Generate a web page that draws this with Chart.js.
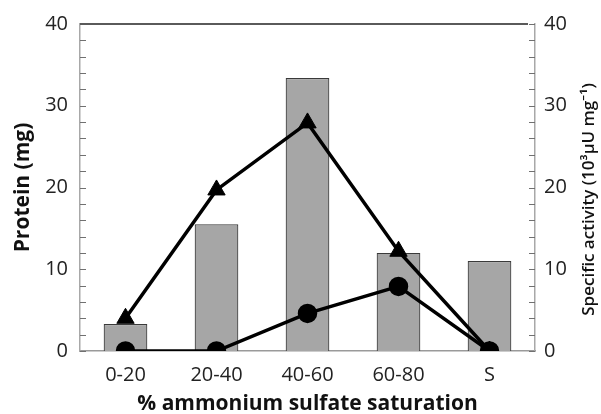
<!DOCTYPE html>
<html>
<head>
<meta charset="utf-8">
<script src="https://cdn.jsdelivr.net/npm/chart.js@4"></script>
<style>
  html, body { margin: 0; padding: 0; background: #fff; }
  #wrap { width: 601px; height: 414px; position: relative; }
</style>
</head>
<body>
<div id="wrap"><canvas id="chart"></canvas></div>
<script>
const categories = ['0-20', '20-40', '40-60', '60-80', 'S'];
const proteinMg = [3.3, 15.5, 33.4, 12.0, 11.0];
const activityTriangles = [4.0, 19.7, 27.9, 12.2, 0];
const activityCircles = [0, 0, 4.6, 7.9, 0];
const axisTicks = [0, 10, 20, 30, 40];
const rightTitle = 'Specific activity (10³µU mg⁻¹)';

const fontFamily = '"Open Sans", "Noto Sans", sans-serif';

// inner minor ticks, dark top border and the right title (read bottom-to-top)
const frameTicks = {
    id: 'frameTicks',
    afterDatasetsDraw(chart) {
        const ctx = chart.ctx;
        const area = chart.chartArea;
        const yl = chart.scales.y, yr = chart.scales.y2;
        ctx.save();
        ctx.strokeStyle = '#707070';
        ctx.lineWidth = 1;
        for (let v = 0; v <= 40; v += 2) {
            const py = Math.round(yl.getPixelForValue(v)) + 0.5;
            ctx.beginPath();
            ctx.moveTo(area.left, py);
            ctx.lineTo(area.left + 6, py);
            ctx.stroke();
            const pr = Math.round(yr.getPixelForValue(v)) + 0.5;
            ctx.beginPath();
            ctx.moveTo(area.right - 6, pr);
            ctx.lineTo(area.right, pr);
            ctx.stroke();
        }
        ctx.strokeStyle = '#5a5a5a';
        ctx.lineWidth = 2;
        ctx.beginPath();
        ctx.moveTo(area.left, area.top);
        ctx.lineTo(area.right - 7, area.top);
        ctx.stroke();

        ctx.translate(589, (area.top + area.bottom) / 2 + 12);
        ctx.rotate(-Math.PI / 2);
        ctx.fillStyle = '#111';
        ctx.font = '600 17px ' + fontFamily;
        ctx.textAlign = 'center';
        ctx.textBaseline = 'middle';
        ctx.fillText(rightTitle, 0, 0);
        ctx.restore();
    }
};

const ctx = document.getElementById('chart').getContext('2d');
new Chart(ctx, {
    data: {
        labels: categories,
        datasets: [
            {
                type: 'line',
                label: 'Activity (triangles)',
                data: activityTriangles,
                yAxisID: 'y2',
                borderColor: '#000',
                borderWidth: 3.5,
                pointStyle: 'triangle',
                pointRadius: 10,
                pointBackgroundColor: '#000',
                pointBorderColor: '#000',
                pointBorderWidth: 1,
                tension: 0,
                order: 1
            },
            {
                type: 'line',
                label: 'Activity (circles)',
                data: activityCircles,
                yAxisID: 'y2',
                borderColor: '#000',
                borderWidth: 3.5,
                pointStyle: 'circle',
                pointRadius: 8,
                pointBackgroundColor: '#000',
                pointBorderColor: '#000',
                tension: 0,
                order: 0
            },
            {
                type: 'bar',
                label: 'Protein',
                data: proteinMg,
                yAxisID: 'y',
                backgroundColor: '#a6a6a6',
                borderColor: '#3a3a3a',
                borderWidth: 1.2,
                categoryPercentage: 1,
                barPercentage: 0.48,
                order: 2
            }
        ]
    },
    options: {
        responsive: true,
        maintainAspectRatio: false,
        animation: false,
        layout: { padding: { top: 22, left: 0, right: 0, bottom: 0 } },
        scales: {
            x: {
                offset: true,
                grid: { display: false, drawTicks: false },
                border: { color: '#9a9a9a', width: 1.5 },
                ticks: { color: '#222', padding: 12, font: { family: fontFamily, size: 20 } },
                title: {
                    display: true,
                    text: '% ammonium sulfate saturation',
                    color: '#111',
                    padding: { top: 0, bottom: -3 },
                    font: { family: fontFamily, size: 21, weight: 'bold' }
                },
                afterFit(s) { s.height = 63; }
            },
            y: {
                position: 'left',
                min: 0, max: 40,
                afterBuildTicks(s) { s.ticks = axisTicks.map(v => ({ value: v })); },
                grid: { display: false, drawTicks: false },
                border: { color: '#a8a8a8', width: 1.5 },
                ticks: { color: '#222', padding: 12, font: { family: fontFamily, size: 20 } },
                title: {
                    display: true,
                    text: 'Protein (mg)',
                    color: '#111',
                    padding: { top: 10, bottom: 0 },
                    font: { family: fontFamily, size: 21, weight: 'bold' }
                },
                afterFit(s) { s.width = 80; }
            },
            y2: {
                position: 'right',
                min: 0, max: 40,
                afterBuildTicks(s) { s.ticks = axisTicks.map(v => ({ value: v })); },
                grid: { display: false, drawTicks: false },
                border: { color: '#a8a8a8', width: 1.5 },
                ticks: { color: '#222', padding: 9, font: { family: fontFamily, size: 20 } },
                title: { display: false },
                afterFit(s) { s.width = 66; }
            }
        },
        plugins: {
            legend: { display: false },
            tooltip: { enabled: false }
        }
    },
    plugins: [frameTicks]
});
</script>
</body>
</html>
